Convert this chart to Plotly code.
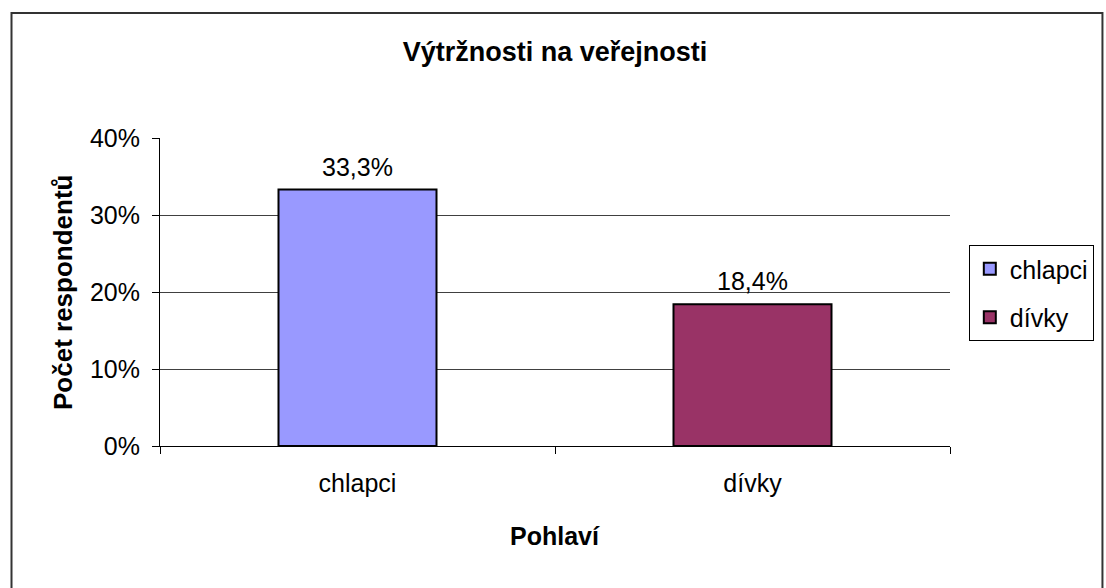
import plotly.graph_objects as go

categories = ["chlapci", "dívky"]
values = [0.333, 0.184]
colors = ["#9999FF", "#993366"]
title_text = "Výtržnosti na veřejnosti"
y_title = "Počet respondentů"
x_title = "Pohlaví"

FONT = "Liberation Sans, Arial, sans-serif"
TXT = "#000000"

W, H = 1106, 588
L, T = 160, 138
PW, PH = 798, 308

fig = go.Figure()
for cat, val, col in zip(categories, values, colors):
    fig.add_trace(go.Bar(
        x=[cat], y=[val], name=cat, width=0.4,
        marker=dict(color=col, line=dict(color="#000000", width=2)),
        legendgroup=cat,
        hoverinfo="skip",
    ))

annotations = []
for cat, val in zip(categories, values):
    annotations.append(dict(
        x=cat, y=val, xref="x", yref="y",
        text=f"{val*100:.1f}%".replace(".", ","),
        showarrow=False, yanchor="bottom", yshift=7,
        font=dict(family=FONT, size=25, color=TXT),
    ))

annotations.append(dict(
    x=(62 - L) / PW, y=0.5, xref="paper", yref="paper", text=f"<b>{y_title}</b>",
    textangle=-90, showarrow=False, xanchor="center", yanchor="middle",
    font=dict(family=FONT, size=26, color=TXT),
))
annotations.append(dict(
    x=0.5, y=-(536 - (T + PH)) / PH, xref="paper", yref="paper", text=f"<b>{x_title}</b>",
    showarrow=False, xanchor="center", yanchor="middle",
    font=dict(family=FONT, size=25, color=TXT),
))

fig.update_layout(
    width=W, height=H,
    margin=dict(l=L, r=W - L - PW, t=T, b=H - T - PH, pad=0),
    paper_bgcolor="white", plot_bgcolor="white",
    separators=", ",
    barmode="overlay",
    title=dict(text=f"<b>{title_text}</b>", x=(559 - L) / PW, xref="paper", xanchor="center",
               y=1 - 52 / H, yanchor="middle",
               font=dict(family=FONT, size=27, color=TXT)),
    font=dict(family=FONT, size=25, color=TXT),
    showlegend=True,
    legend=dict(
        x=(977 - L) / PW, xanchor="left",
        y=1 - (245 - T) / PH, yanchor="top",
        bgcolor="white", bordercolor="#000000", borderwidth=1,
        font=dict(family=FONT, size=25, color=TXT),
        tracegroupgap=13, traceorder="grouped",
        itemclick=False, itemdoubleclick=False,
    ),
    xaxis=dict(
        type="category", range=[-0.5, 1.5],
        showline=True, linecolor="#000000", linewidth=1,
        ticks="outside", tickson="boundaries", ticklen=7, tickcolor="#000000",
        showgrid=False, ticklabelstandoff=15,
        tickfont=dict(family=FONT, size=25, color=TXT),
        fixedrange=True,
    ),
    yaxis=dict(
        range=[0, 0.4], dtick=0.1, tick0=0, tickformat=".0%",
        showline=True, linecolor="#000000", linewidth=1,
        ticks="outside", ticklen=7, tickcolor="#000000",
        showgrid=True, gridcolor="#404040", gridwidth=1,
        zeroline=False, ticklabelstandoff=7,
        tickfont=dict(family=FONT, size=25, color=TXT),
        fixedrange=True,
    ),
    annotations=annotations,
    shapes=[dict(
        type="rect", xref="paper", yref="paper",
        x0=(10 - L) / PW, x1=(W + 6 - L) / PW,
        y0=-(H + 6 - T - PH) / PH, y1=1 + (T - 13) / PH,
        line=dict(color="#333333", width=2), fillcolor="rgba(0,0,0,0)",
        layer="below",
    )],
)

fig.write_html(
    "out.html",
    config={"displayModeBar": False},
    post_script="document.body.style.margin='0';document.body.style.overflow='hidden';",
)
